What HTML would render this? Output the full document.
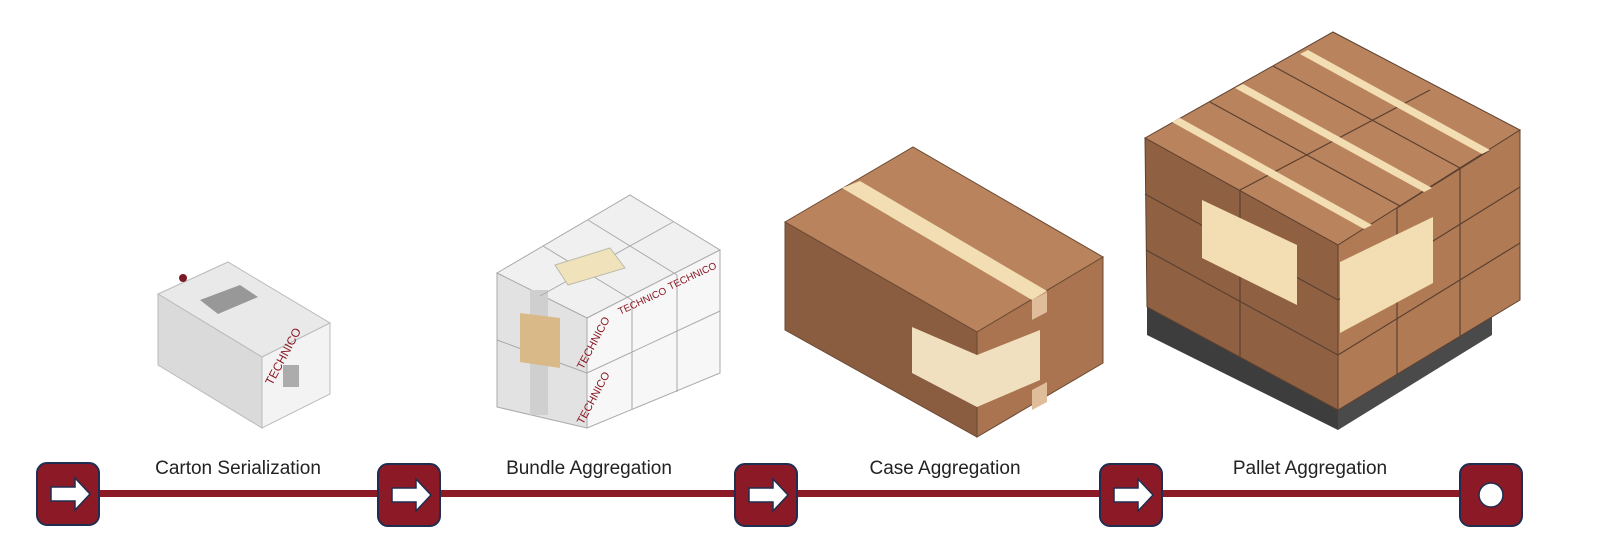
<!DOCTYPE html>
<html><head><meta charset="utf-8"><style>
body{margin:0;background:#fff;width:1600px;height:550px;overflow:hidden}
svg{display:block}
text{font-family:"Liberation Sans",sans-serif}
</style></head><body>
<svg width="1600" height="550" viewBox="0 0 1600 550">
<!-- Carton -->
<polygon points="158,294 228,262 330,323 262,357" fill="#e9e9e9" stroke="#bbb"/>
<polygon points="158,294 262,357 262,428 158,365" fill="#dadada" stroke="#bbb"/>
<polygon points="262,357 330,323 330,394 262,428" fill="#f3f3f3" stroke="#bbb"/>
<polygon points="200,300 240,285 258,297 218,314" fill="#555" opacity=".55"/>
<circle cx="183" cy="278" r="4" fill="#7a1a26"/>
<text x="0" y="0" font-size="12" fill="#8b1a26" transform="translate(272,386) rotate(-62)">TECHNICO</text>
<rect x="283" y="365" width="16" height="22" fill="#666" opacity=".5"/>
<!-- Bundle -->
<polygon points="497,273 630,195 720,250 587,318" fill="#f0f0f0" stroke="#aaa"/>
<polygon points="497,273 587,318 587,428 497,407" fill="#e2e2e2" stroke="#aaa"/>
<polygon points="587,318 720,250 720,373 587,428" fill="#f7f7f7" stroke="#aaa"/>
<rect x="530" y="290" width="18" height="125" fill="#cfcfcf"/>
<line x1="497" y1="340" x2="587" y2="373" stroke="#aaa"/>
<line x1="587" y1="373" x2="720" y2="311" stroke="#aaa"/>
<line x1="632" y1="300" x2="632" y2="410" stroke="#aaa"/>
<line x1="677" y1="275" x2="677" y2="392" stroke="#aaa"/>
<line x1="543" y1="246" x2="632" y2="300" stroke="#aaa"/>
<line x1="588" y1="220" x2="677" y2="275" stroke="#aaa"/>
<line x1="540" y1="296" x2="673" y2="222" stroke="#aaa"/>
<polygon points="555,265 610,248 625,268 568,285" fill="#f0e3bc" stroke="#bba"/>
<polygon points="520,313 560,318 560,368 520,362" fill="#d9b988"/>
<text font-size="11" fill="#8b1a26" transform="translate(583,370) rotate(-62)">TECHNICO</text>
<text font-size="11" fill="#8b1a26" transform="translate(583,425) rotate(-62)">TECHNICO</text>
<text font-size="10" fill="#8b1a26" transform="translate(620,315) rotate(-25)">TECHNICO</text>
<text font-size="10" fill="#8b1a26" transform="translate(670,290) rotate(-25)">TECHNICO</text>
<!-- Case -->
<polygon points="785,222 913,147 1103,257 977,332" fill="#b9845d" stroke="#6b4a33"/>
<polygon points="785,222 977,332 977,437 785,330" fill="#8a5d40" stroke="#6b4a33"/>
<polygon points="977,332 1103,257 1103,363 977,437" fill="#a9744f" stroke="#6b4a33"/>
<polygon points="842,188 860,181 1047,291 1032,300" fill="#f3deb3"/>
<polygon points="1032,300 1047,292 1047,312 1032,320" fill="#e0bd9a"/>
<polygon points="1032,390 1047,382 1047,402 1032,410" fill="#e0bd9a"/>
<polygon points="912,327 977,355 977,407 912,373" fill="#f1e0bf"/>
<polygon points="977,355 1040,330 1040,380 977,407" fill="#f1e0bf"/>
<!-- Pallet base -->
<polygon points="1147,300 1338,405 1338,430 1147,335" fill="#3d3d3d"/>
<polygon points="1338,405 1492,315 1492,335 1338,430" fill="#4a4a4a"/>
<!-- Pallet load -->
<polygon points="1145,138 1333,32 1520,130 1338,245" fill="#b9845d" stroke="#5d4030"/>
<polygon points="1145,138 1338,245 1338,410 1147,307" fill="#8f6142" stroke="#5d4030"/>
<polygon points="1338,245 1520,130 1520,300 1338,410" fill="#b07a55" stroke="#5d4030"/>
<g stroke="#5d4030" stroke-width="1.2" fill="none">
<line x1="1145" y1="194" x2="1338" y2="300"/><line x1="1146" y1="250" x2="1338" y2="355"/>
<line x1="1338" y1="300" x2="1520" y2="187"/><line x1="1338" y1="355" x2="1520" y2="243"/>
<line x1="1240" y1="190" x2="1240" y2="358"/><line x1="1397" y1="208" x2="1397" y2="374"/><line x1="1460" y1="168" x2="1460" y2="337"/>
<line x1="1210" y1="102" x2="1400" y2="206"/><line x1="1273" y1="66" x2="1460" y2="168"/>
<line x1="1240" y1="190" x2="1430" y2="90"/><line x1="1397" y1="208" x2="1490" y2="150"/>
</g>
<g fill="#f3deb3">
<polygon points="1172,122 1180,118 1372,225 1364,229"/>
<polygon points="1235,88 1243,84 1432,188 1424,192"/>
<polygon points="1300,54 1308,50 1490,150 1482,154"/>
<polygon points="1202,200 1297,245 1297,305 1202,258"/>
<polygon points="1340,262 1433,217 1433,283 1340,333"/>
</g>
<!-- Bar -->
<rect x="68" y="490" width="1422" height="7" fill="#8b1a26"/>
<g fill="#8b1a26" stroke="#1f2d50" stroke-width="2">
<rect x="37" y="463" width="62" height="62" rx="10"/>
<rect x="378" y="464" width="62" height="62" rx="10"/>
<rect x="735" y="464" width="62" height="62" rx="10"/>
<rect x="1100" y="464" width="62" height="62" rx="10"/>
<rect x="1460" y="464" width="62" height="62" rx="10"/>
</g>
<g fill="#fff" stroke="#1f2d50" stroke-width="1.5">
<polygon points="51,487 75,487 75,478 90,494 75,510 75,501 51,501"/>
<polygon points="392,488 416,488 416,479 431,495 416,511 416,502 392,502"/>
<polygon points="749,488 773,488 773,479 788,495 773,511 773,502 749,502"/>
<polygon points="1114,488 1138,488 1138,479 1153,495 1138,511 1138,502 1114,502"/>
<circle cx="1491" cy="495" r="12"/>
</g>
<g font-size="19" fill="#222" text-anchor="middle">
<text x="238" y="474">Carton Serialization</text>
<text x="589" y="474">Bundle Aggregation</text>
<text x="945" y="474">Case Aggregation</text>
<text x="1310" y="474">Pallet Aggregation</text>
</g>
</svg>
</body></html>
